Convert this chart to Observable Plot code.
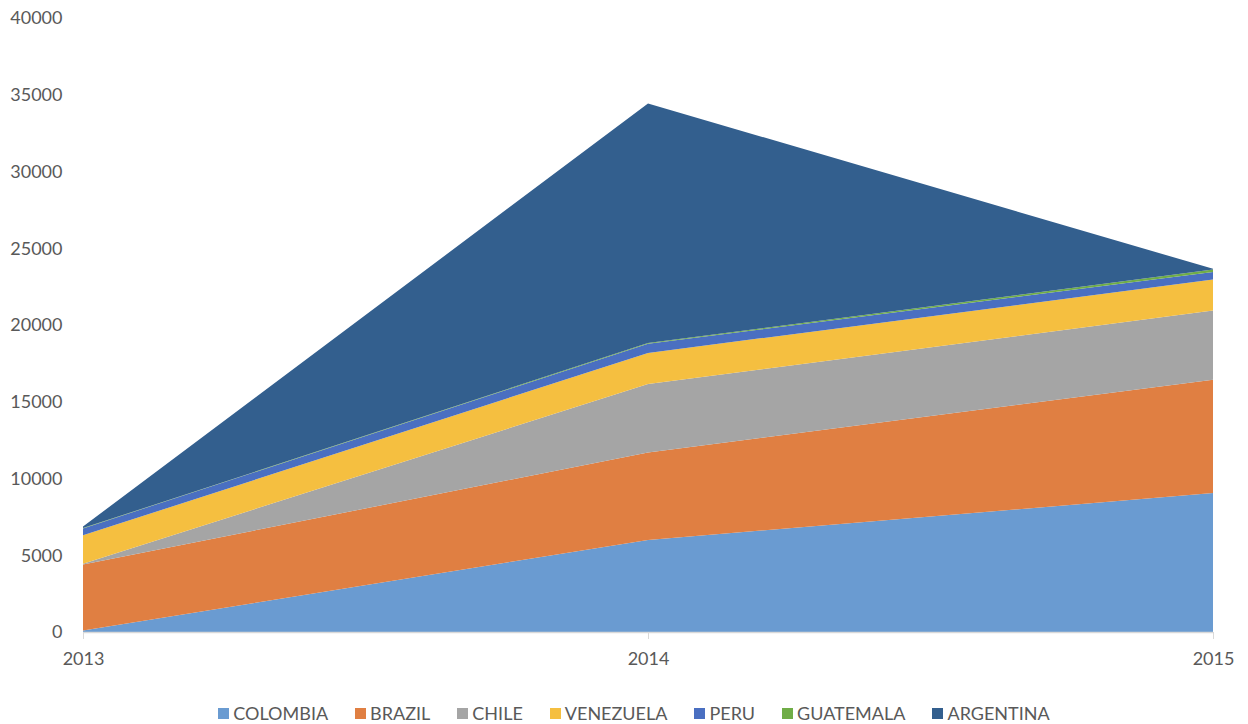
<!DOCTYPE html>
<html>
<head>
<meta charset="utf-8">
<script src="https://cdn.jsdelivr.net/npm/d3@7"></script>
<script src="https://cdn.jsdelivr.net/npm/@observablehq/plot@0.6"></script>
<style>
  html, body { margin: 0; padding: 0; background: #fff; }
  #chart { width: 1248px; }
  #legend { display: flex; justify-content: center; gap: 27px; font-family: Lato, "Open Sans", sans-serif; font-size: 18px; color: #595959; margin-top: 22px; padding-left: 20px; }
  .item { display: flex; align-items: center; gap: 4px; }
  .sw { width: 11px; height: 11px; display: inline-block; }
</style>
</head>
<body>
<div id="chart"></div>
<div id="legend"></div>
<script>
const years = [2013, 2014, 2015];
const countries = ["COLOMBIA", "BRAZIL", "CHILE", "VENEZUELA", "PERU", "GUATEMALA", "ARGENTINA"];
const colors = ["#6a9bd1", "#e07f42", "#a5a5a5", "#f5bf40", "#4a6fc1", "#70ad47", "#335f8e"];
const colombia  = [100, 6000, 9050];
const brazil    = [4300, 5700, 7390];
const chile     = [50, 4450, 4500];
const venezuela = [1850, 2030, 2020];
const peru      = [450, 600, 500];
const guatemala = [20, 50, 150];
const argentina = [100, 15600, 50];
const yTicks = [0, 5000, 10000, 15000, 20000, 25000, 30000, 35000, 40000];

const seriesValues = [colombia, brazil, chile, venezuela, peru, guatemala, argentina];
const data = [];
countries.forEach((c, i) => years.forEach((y, j) => data.push({country: c, year: y, value: seriesValues[i][j]})));

const chart = Plot.plot({
  width: 1248,
  height: 680,
  marginLeft: 83,
  marginRight: 35,
  marginTop: 18,
  marginBottom: 48,
  style: {fontFamily: "Lato, 'Open Sans', sans-serif", fontSize: "18px", color: "#595959"},
  x: {domain: [2013, 2015]},
  y: {domain: [0, 40000]},
  color: {domain: countries, range: colors},
  marks: [
    Plot.areaY(data, {x: "year", y: "value", z: "country", fill: "country", order: countries}),
    Plot.ruleY([0], {stroke: "#d9d9d9", strokeWidth: 1.5}),
    Plot.axisX({ticks: years, tickFormat: "d", tickSize: 7, tickPadding: 13, stroke: "#d9d9d9", fill: "#595959", label: null, fontSize: 18}),
    Plot.axisY({ticks: yTicks, tickFormat: "d", tickSize: 0, tickPadding: 21, fill: "#595959", label: null, fontSize: 18})
  ]
});
document.getElementById("chart").appendChild(chart);

const legend = document.getElementById("legend");
countries.forEach((c, i) => {
  const it = document.createElement("span");
  it.className = "item";
  it.innerHTML = `<span class="sw" style="background:${colors[i]}"></span><span>${c}</span>`;
  legend.appendChild(it);
});
</script>
</body>
</html>
